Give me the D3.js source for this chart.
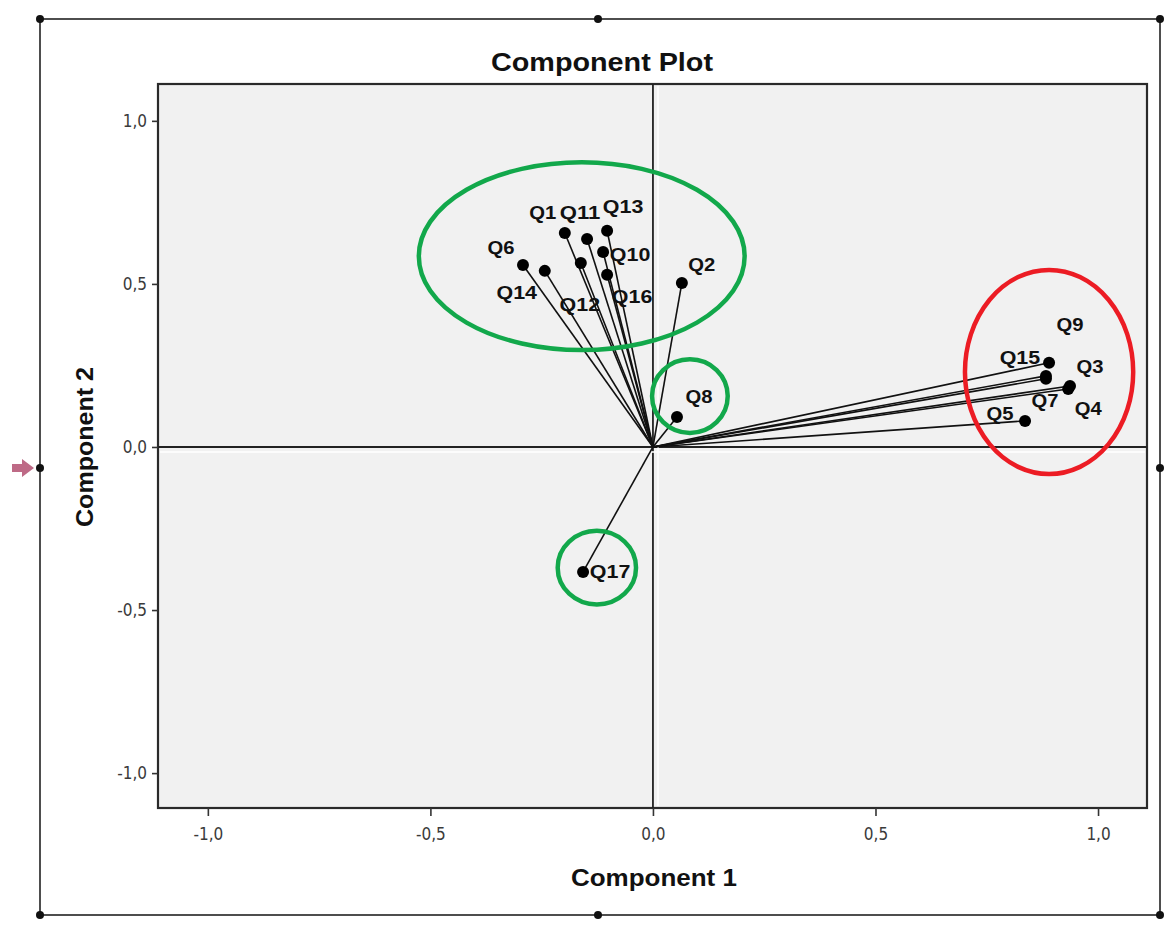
<!DOCTYPE html>
<html>
<head>
<meta charset="utf-8">
<script src="https://cdn.jsdelivr.net/npm/d3@7"></script>
<style>
  body { margin: 0; background: #fff; }
  svg { display: block; font-family: "Liberation Sans", Arial, sans-serif; }
</style>
</head>
<body>
<div id="chart"></div>
<script>
// Component loadings
const items = ["Q1", "Q2", "Q3", "Q4", "Q5", "Q6", "Q7", "Q8", "Q9",
               "Q10", "Q11", "Q12", "Q13", "Q14", "Q15", "Q16", "Q17"];
const comp1 = [-0.198, 0.065, 0.937, 0.933, 0.836, -0.292, 0.883, 0.054, 0.890,
               -0.112, -0.148, -0.162, -0.103, -0.243, 0.883, -0.103, -0.157];
const comp2 = [0.656, 0.503, 0.187, 0.178, 0.080, 0.558, 0.209, 0.092, 0.258,
               0.598, 0.638, 0.564, 0.663, 0.540, 0.218, 0.528, -0.383];
const axisTicks = [-1.0, -0.5, 0.0, 0.5, 1.0];

// label offsets (px) from each point, SPSS style placement
const labelShift = {
  Q1: [-22, -20], Q2: [20, -18], Q3: [20, -19], Q4: [20, 20], Q5: [-25, -7],
  Q6: [-22, -17], Q7: [-1, 22], Q8: [22, -20], Q9: [21, -38], Q10: [27, 3],
  Q11: [-7, -26], Q12: [-1, 42], Q13: [16, -24], Q14: [-28, 22], Q15: [-26, -18],
  Q16: [25, 22], Q17: [27, 0]
};

// hand drawn annotation rings, in data units (cx, cy, rx, ry)
const greenRings = [[-0.16, 0.585, 0.366, 0.288], [0.083, 0.156, 0.085, 0.113], [-0.126, -0.370, 0.088, 0.113]];
const redRings = [[0.89, 0.230, 0.189, 0.313]];

const W = 1168, H = 942;
const plot = { left: 158, top: 84, right: 1147, bottom: 808 };

const svg = d3.select('#chart').append('svg')
  .attr('width', W).attr('height', H);

// outer object frame with handles
const frame = { x0: 40, y0: 19, x1: 1160, y1: 915 };
svg.append('rect')
  .attr('x', frame.x0).attr('y', frame.y0)
  .attr('width', frame.x1 - frame.x0).attr('height', frame.y1 - frame.y0)
  .attr('fill', 'none').attr('stroke', '#222').attr('stroke-width', 1.6);
const mx = (frame.x0 + frame.x1) / 2 - 2, my = (frame.y0 + frame.y1) / 2 + 1;
[[frame.x0, frame.y0], [mx, frame.y0], [frame.x1, frame.y0],
 [frame.x0, my], [frame.x1, my],
 [frame.x0, frame.y1], [mx, frame.y1], [frame.x1, frame.y1]].forEach(p => {
  svg.append('circle').attr('cx', p[0]).attr('cy', p[1]).attr('r', 4).attr('fill', '#111');
});
// small pink arrow on the left handle
svg.append('path')
  .attr('d', `M${frame.x0 - 28},${my - 4} L${frame.x0 - 18},${my - 4} L${frame.x0 - 18},${my - 9} L${frame.x0 - 6},${my} L${frame.x0 - 18},${my + 9} L${frame.x0 - 18},${my + 4} L${frame.x0 - 28},${my + 4} Z`)
  .attr('fill', '#a8385e').attr('opacity', 0.75);

// scales
const x = d3.scaleLinear().domain([-1.112, 1.11]).range([plot.left, plot.right]);
const y = d3.scaleLinear().domain([-1.107, 1.113]).range([plot.bottom, plot.top]);

// plot background
svg.append('rect')
  .attr('x', plot.left).attr('y', plot.top)
  .attr('width', plot.right - plot.left).attr('height', plot.bottom - plot.top)
  .attr('fill', '#f1f1f1').attr('stroke', '#2a2a2a').attr('stroke-width', 2.2);

// title
svg.append('text')
  .attr('x', 602).attr('y', 71)
  .attr('text-anchor', 'middle')
  .attr('textLength', 222).attr('lengthAdjust', 'spacingAndGlyphs')
  .style('font-size', '25px').style('font-weight', 'bold').attr('fill', '#111')
  .text('Component Plot');

const fmt = d => d3.format('.1f')(d).replace('.', ',').replace('−', '-');
const tickFont = '"DejaVu Sans Condensed", "Liberation Sans Narrow", sans-serif';

// X axis
const xAxis = svg.append('g')
  .attr('transform', `translate(0,${plot.bottom})`)
  .call(d3.axisBottom(x).tickValues(axisTicks).tickFormat(fmt).tickSize(8).tickPadding(12));
xAxis.select('.domain').remove();
xAxis.selectAll('line').attr('stroke', '#333').attr('stroke-width', 1.6);
xAxis.selectAll('text').style('font-size', '17px').attr('fill', '#3a3a3a')
  .style('font-family', tickFont);

// Y axis
const yAxis = svg.append('g')
  .attr('transform', `translate(${plot.left},0)`)
  .call(d3.axisLeft(y).tickValues(axisTicks).tickFormat(fmt).tickSize(6).tickPadding(5));
yAxis.select('.domain').remove();
yAxis.selectAll('line').attr('stroke', '#333').attr('stroke-width', 1.6);
yAxis.selectAll('text').style('font-size', '17px').attr('fill', '#3a3a3a')
  .style('font-family', tickFont);

// axis titles
svg.append('text')
  .attr('x', x(0) + 1).attr('y', 886)
  .attr('text-anchor', 'middle')
  .attr('textLength', 166).attr('lengthAdjust', 'spacingAndGlyphs')
  .style('font-size', '23px').style('font-weight', 'bold').attr('fill', '#111')
  .text('Component 1');
svg.append('text')
  .attr('transform', `translate(93,${y(0)}) rotate(-90)`)
  .attr('text-anchor', 'middle')
  .attr('textLength', 160).attr('lengthAdjust', 'spacingAndGlyphs')
  .style('font-size', '23px').style('font-weight', 'bold').attr('fill', '#111')
  .text('Component 2');

// reference lines at zero
svg.append('line')
  .attr('x1', plot.left).attr('x2', plot.right)
  .attr('y1', y(0)).attr('y2', y(0))
  .attr('stroke', '#222').attr('stroke-width', 1.8);
svg.append('line')
  .attr('x1', x(0)).attr('x2', x(0))
  .attr('y1', plot.top).attr('y2', plot.bottom)
  .attr('stroke', '#222').attr('stroke-width', 1.8);
// faint light bands next to zero lines (as in source)
svg.append('line')
  .attr('x1', plot.left + 2).attr('x2', plot.right - 2)
  .attr('y1', y(0) + 5).attr('y2', y(0) + 5)
  .attr('stroke', '#fff').attr('stroke-width', 2).attr('opacity', 0.8);
svg.append('line')
  .attr('x1', x(0) + 5).attr('x2', x(0) + 5)
  .attr('y1', plot.top + 2).attr('y2', plot.bottom - 2)
  .attr('stroke', '#fff').attr('stroke-width', 2).attr('opacity', 0.8);

const pts = items.map((name, i) => ({ name, c1: comp1[i], c2: comp2[i] }));

// vectors from origin
svg.append('g').selectAll('line')
  .data(pts).enter().append('line')
  .attr('x1', x(0)).attr('y1', y(0))
  .attr('x2', d => x(d.c1)).attr('y2', d => y(d.c2))
  .attr('stroke', '#111').attr('stroke-width', 1.6);

// points
svg.append('g').selectAll('circle')
  .data(pts).enter().append('circle')
  .attr('cx', d => x(d.c1)).attr('cy', d => y(d.c2))
  .attr('r', 6).attr('fill', '#000');

// labels
svg.append('g').selectAll('text')
  .data(pts).enter().append('text')
  .attr('x', d => x(d.c1) + labelShift[d.name][0])
  .attr('y', d => y(d.c2) + labelShift[d.name][1])
  .attr('text-anchor', 'middle').attr('dominant-baseline', 'central')
  .attr('textLength', d => d.name.length * 13.5).attr('lengthAdjust', 'spacingAndGlyphs')
  .style('font-size', '18px').style('font-weight', 'bold').attr('fill', '#111')
  .text(d => d.name);

// annotation rings
const rings = svg.append('g').attr('fill', 'none').attr('stroke-width', 4.5);
rings.selectAll('.green')
  .data(greenRings).enter().append('ellipse')
  .attr('cx', d => x(d[0])).attr('cy', d => y(d[1]))
  .attr('rx', d => x(d[2]) - x(0)).attr('ry', d => y(0) - y(d[3]))
  .attr('stroke', '#12a84b');
rings.selectAll('.red')
  .data(redRings).enter().append('ellipse')
  .attr('cx', d => x(d[0])).attr('cy', d => y(d[1]))
  .attr('rx', d => x(d[2]) - x(0)).attr('ry', d => y(0) - y(d[3]))
  .attr('stroke', '#ec1c24');
</script>
</body>
</html>
